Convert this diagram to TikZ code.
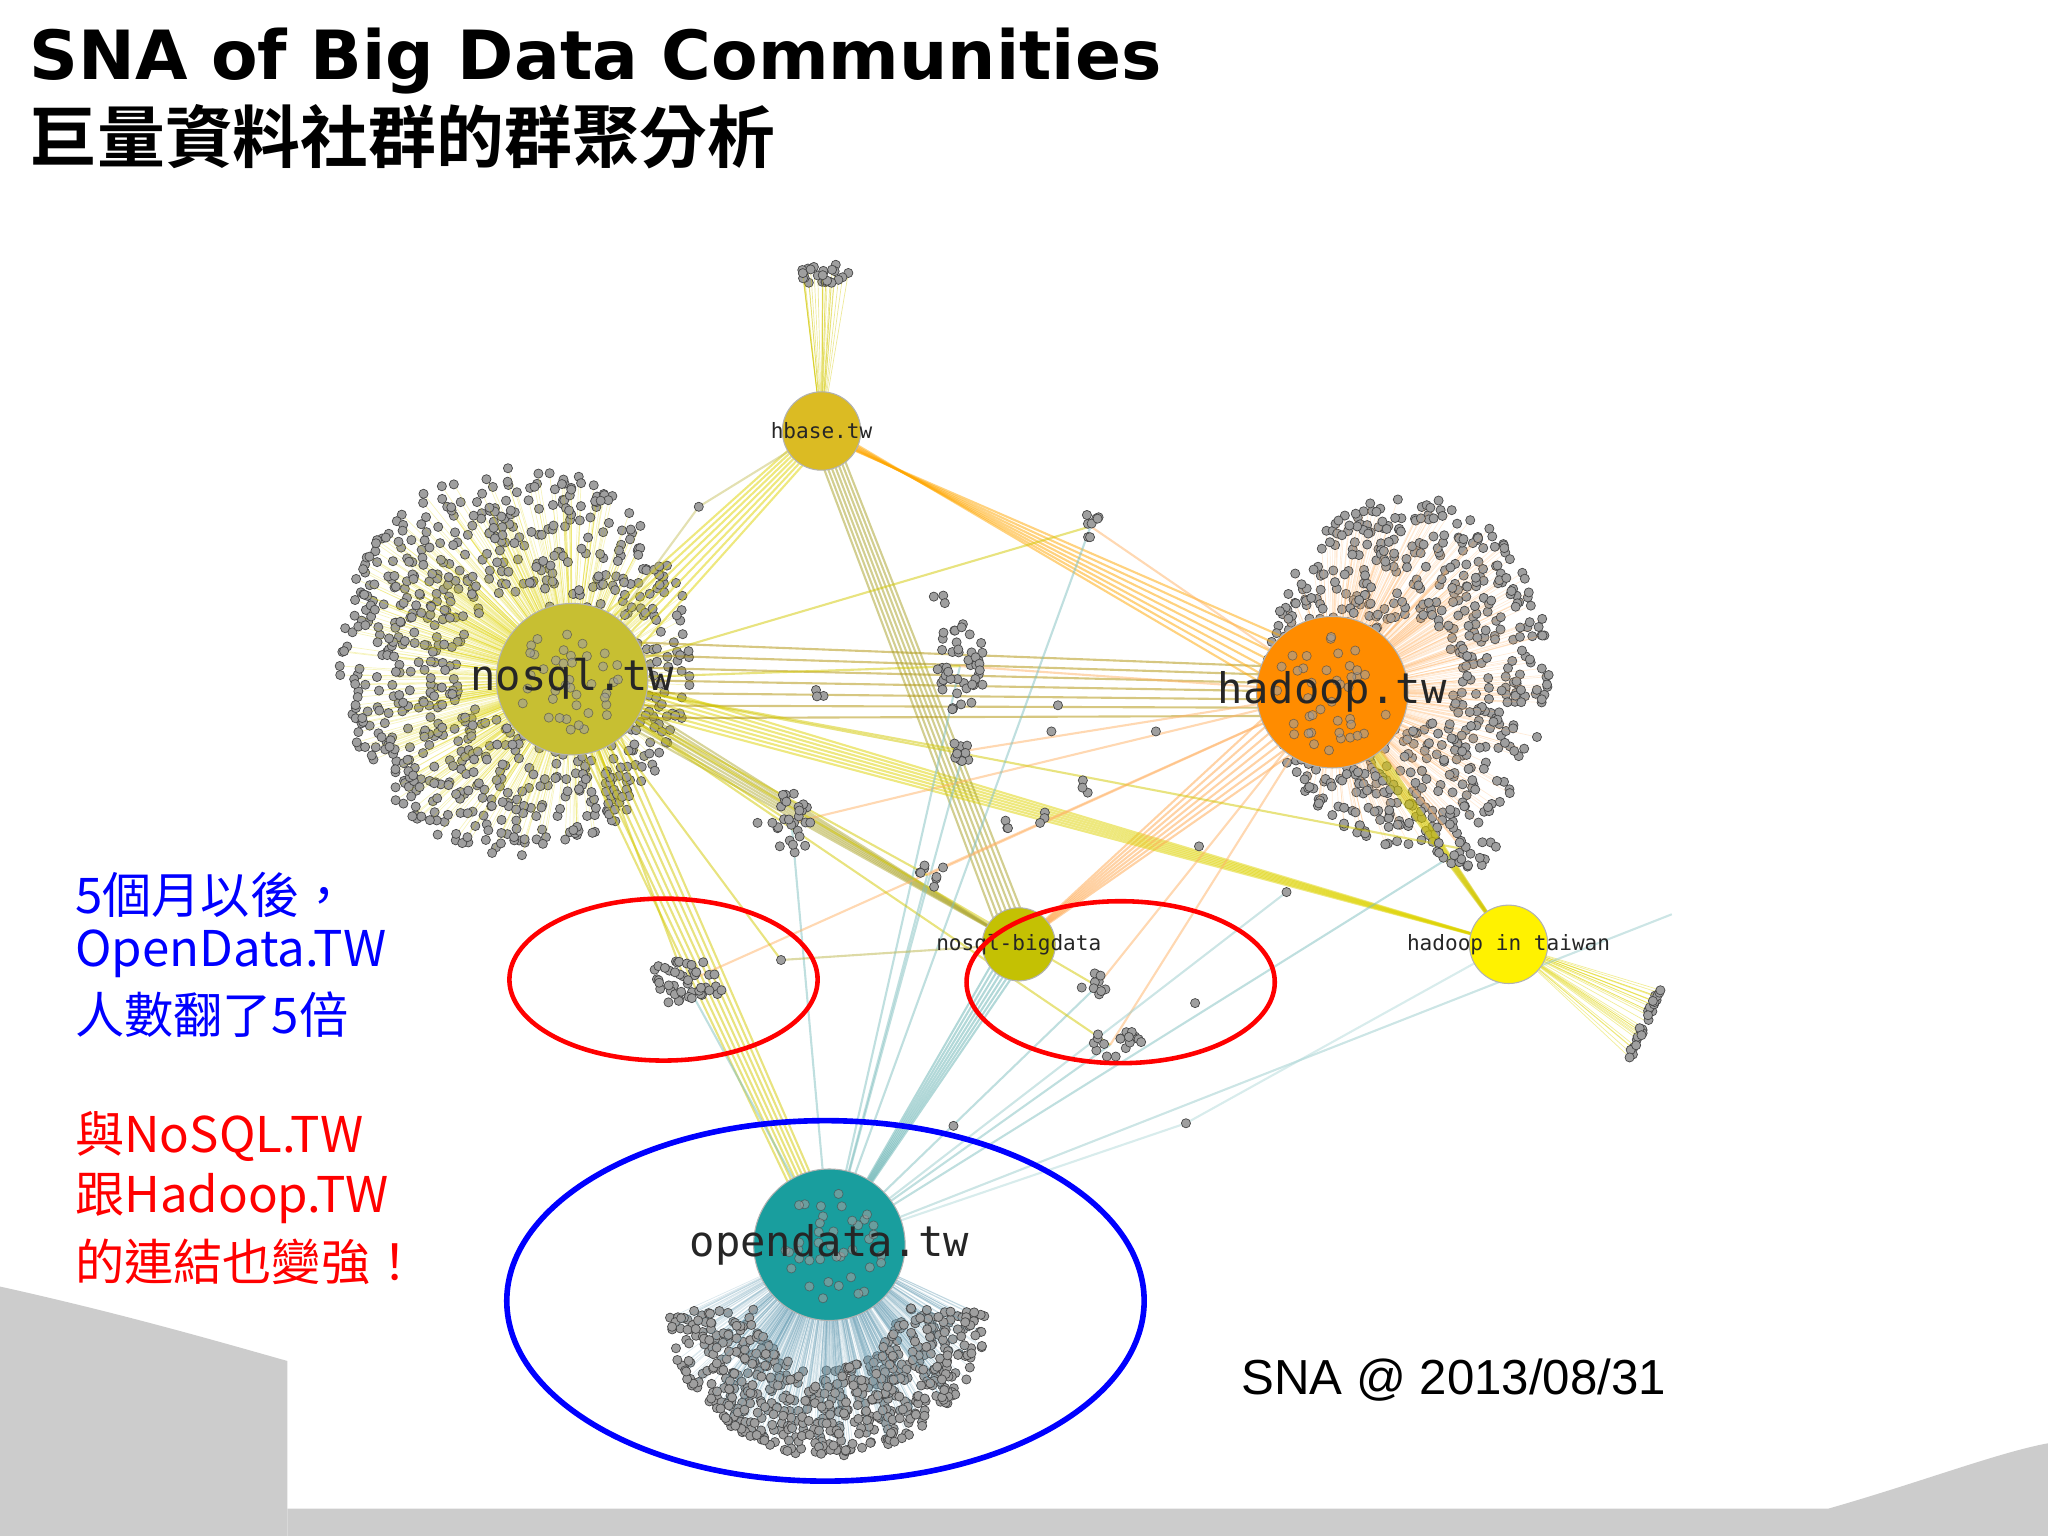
\documentclass[tikz,border=0pt]{standalone}
\usepackage{fontspec}
\usetikzlibrary{calc}
\setmainfont{Liberation Sans}
\newfontfamily\titlefont{DejaVu Sans}
\newfontfamily\cjkb{Noto Sans CJK TC}[BoldFont={* Bold}]
\newfontfamily\cjk{Noto Sans CJK TC}
\newfontfamily\monof{DejaVu Sans Mono}
\begin{document}
\begin{tikzpicture}[x=0.013061cm,y=-0.013061cm,
  dot/.style={fill=gray!75,draw=gray!55!black,line width=0.2pt},
  hub/.style={circle,draw=gray!60,line width=0.3pt,inner sep=0pt},
  hlab/.style={font=\monof,text=black!85},
  edgeO/.style={line width=0.6pt,opacity=0.5},
  ctext/.style={anchor=west,font=\cjk\fontsize{14}{16}\selectfont}]
\pgfmathsetseed{7}
\useasboundingbox (0,0) rectangle (1568,1176);
% slide background shapes
\fill[gray!40] (0,985) .. controls (90,1005) and (160,1025) .. (220,1042) -- (220,1176) -- (0,1176) -- cycle;
\fill[gray!40] (220,1155) -- (1400,1155) .. controls (1470,1135) and (1530,1112) .. (1568,1105) -- (1568,1176) -- (220,1176) -- cycle;
% title
\node[anchor=west,inner sep=0pt,font=\titlefont\bfseries\fontsize{19.3}{22}\selectfont] (title) at (22,47) {SNA of Big Data Communities};
\node[anchor=west,inner sep=0pt,font=\cjkb\bfseries\fontsize{19.3}{22}\selectfont] (subtitle) at (22,105) {巨量資料社群的群聚分析};
% hub coordinates
\coordinate (hb) at (629,330);
\coordinate (ns) at (438,520);
\coordinate (hd) at (1020,530);
\coordinate (nb) at (780,723);
\coordinate (ht) at (1155,723);
\coordinate (od) at (635,953);
% nosql cloud with spokes
\foreach \i in {1,...,800}{
  \pgfmathsetmacro\a{rnd*360}\pgfmathsetmacro\r{sqrt(0.1+0.9*rnd)}
  \draw[yellow!70!olive,line width=0.2pt,opacity=0.25] (ns) -- ({395+135*\r*cos(\a)},{505+150*\r*sin(\a)});
  \fill[dot] ({395+135*\r*cos(\a)},{505+150*\r*sin(\a)}) circle (3.5);
}
% hadoop cloud
\foreach \i in {1,...,700}{
  \pgfmathsetmacro\a{rnd*360}\pgfmathsetmacro\r{sqrt(0.1+0.9*rnd)}
  \draw[orange!60,line width=0.2pt,opacity=0.25] (hd) -- ({1078+108*\r*cos(\a)},{515+135*\r*sin(\a)});
  \fill[dot] ({1078+108*\r*cos(\a)},{515+135*\r*sin(\a)}) circle (3.5);
}
% opendata fan
\foreach \i in {1,...,650}{
  \pgfmathsetmacro\a{5+rnd*170}\pgfmathsetmacro\r{sqrt(0.2+0.8*rnd)}
  \draw[cyan!40!gray,line width=0.2pt,opacity=0.25] (od) -- ({633+125*\r*cos(\a)},{995+120*\r*sin(\a)});
  \fill[dot] ({633+125*\r*cos(\a)},{995+120*\r*sin(\a)}) circle (3.5);
}
% hbase top cluster
\foreach \i in {1,...,25}{
  \pgfmathsetmacro\a{rnd*360}\pgfmathsetmacro\r{sqrt(rnd)}
  \draw[yellow!60!olive,line width=0.2pt,opacity=0.4] (hb) -- ({632+22*\r*cos(\a)},{210+8*\r*sin(\a)});
  \fill[dot] ({632+22*\r*cos(\a)},{210+8*\r*sin(\a)}) circle (3.5);
}
% hadoop in taiwan cluster
\foreach \i in {1,...,30}{
  \pgfmathsetmacro\t{rnd}
  \draw[yellow!70!olive,line width=0.2pt,opacity=0.4] (ht) -- ({1270-25*\t+4*rnd},{755+55*\t});
  \fill[dot] ({1270-25*\t+4*rnd},{755+55*\t}) circle (3.5);
}
% hub-to-hub bundles
\foreach \d in {-30,-20,...,30}{
  \draw[olive!70!orange,edgeO] ($(ns)+(0,\d)$) -- ($(hd)+(0,\d*0.6)$);
  \draw[yellow!60!olive,edgeO] ($(ns)+(\d*0.6,0)$) -- ($(od)+(\d*0.3,0)$);
  \draw[orange!70!yellow,edgeO] ($(hb)+(\d*0.3,0)$) -- ($(hd)+(\d*0.3,\d)$);
  \draw[olive!80,edgeO] ($(hb)+(\d*0.3,0)$) -- ($(nb)+(\d*0.4,0)$);
  \draw[orange!70,edgeO] ($(hd)+(\d*0.5,\d*0.5)$) -- (nb);
  \draw[yellow!70!olive,edgeO] ($(ns)+(0,\d*0.4)$) -- (ht);
  \draw[yellow!60!olive,edgeO] ($(hd)+(0,\d*0.4)$) -- (ht);
  \draw[teal!60,edgeO] (od) -- ($(nb)+(\d*0.4,0)$);
  \draw[olive!70,edgeO] ($(ns)+(0,\d*0.4)$) -- (nb);
  \draw[yellow!70!olive,edgeO] ($(hb)+(\d*0.3,0)$) -- ($(ns)+(\d,0)$);
}
\foreach \x/\y in {606/630,735/510,738/575,525/752,840/755,850/800,1120/650,835/403,710/670}{
  \draw[teal!50,edgeO] (od) -- (\x,\y);
  \draw[yellow!60!olive,edgeO] (ns) -- (\x,\y);
  \draw[orange!60,edgeO] (hd) -- (\x,\y);
}
\draw[teal!40,edgeO] (od) -- (1280,700);
\draw[teal!40,edgeO] (od) -- (985,683);
\draw[yellow!60!olive,edgeO] (ns) -- (598,735);
\draw[olive!60,edgeO] (nb) -- (598,735);
\draw[olive!50,edgeO] (hb) -- (535,388);
\draw[olive!50,edgeO] (ns) -- (535,388);
\draw[teal!30,edgeO] (od) -- (908,860);
\draw[teal!30,edgeO] (ht) -- (908,860);
% small clusters
\foreach \cx/\cy/\rx/\ry/\n in {835/403/8/12/8,735/510/20/35/45,738/575/10/12/10,606/630/15/25/28,525/752/30/18/45,840/755/12/10/10,855/800/22/12/18,1122/652/25/12/22,712/670/12/12/8,718/460/6/6/3,628/530/6/6/3,775/630/6/6/3,800/628/6/6/3,830/602/6/6/3}{
  \foreach \i in {1,...,\n}{
    \pgfmathsetmacro\a{rnd*360}\pgfmathsetmacro\r{sqrt(rnd)}
    \fill[dot] ({\cx+\rx*\r*cos(\a)},{\cy+\ry*\r*sin(\a)}) circle (3.5);
  }
}
\foreach \x/\y in {535/388,598/735,580/630,985/683,915/768,908/860,805/560,810/540,885/560,730/862,918/648}{\fill[dot] (\x,\y) circle (3.5);}
% hubs
\node[hub,fill=yellow!70!orange!85!black,minimum size=0.784cm] (hbase) at (hb) {};
\node[hub,fill=yellow!75!black,minimum size=1.515cm] (nosql) at (ns) {};
\node[hub,fill=orange!90!yellow,minimum size=1.515cm] (hadoop) at (hd) {};
\node[hub,fill=yellow!55!olive!95!green,minimum size=0.731cm] (nbd) at (nb) {};
\node[hub,fill=yellow,minimum size=0.784cm] (hit) at (ht) {};
\node[hub,fill=teal!70!cyan!80!gray,minimum size=1.515cm] (open) at (od) {};
% dots on hubs
\foreach \c/\R in {ns/45,hd/45,od/45}{
  \foreach \i in {1,...,40}{
    \pgfmathsetmacro\a{rnd*360}\pgfmathsetmacro\r{sqrt(rnd)}
    \fill[dot,opacity=0.6] ($(\c)+({\R*\r*cos(\a)},{\R*\r*sin(\a)})$) circle (3.5);
  }
}
% labels
\node[hlab,font=\monof\fontsize{6}{7}\selectfont] (lhb) at (hb) {hbase.tw};
\node[hlab,font=\monof\fontsize{12}{14}\selectfont] (lns) at (ns) {nosql.tw};
\node[hlab,font=\monof\fontsize{12}{14}\selectfont] (lhd) at (hd) {hadoop.tw};
\node[hlab,font=\monof\fontsize{6}{7}\selectfont] (lnb) at (nb) {nosql-bigdata};
\node[hlab,font=\monof\fontsize{6}{7}\selectfont] (lht) at (ht) {hadoop in taiwan};
\node[hlab,font=\monof\fontsize{12}{14}\selectfont] (lod) at (od) {opendata.tw};
% highlight ellipses
\draw[red,line width=1.3pt] (508,750) ellipse (118 and 62);
\draw[red,line width=1.3pt] (858,752) ellipse (118 and 62);
\draw[blue,line width=1.6pt] (632,996) ellipse (244 and 138);
% side text
\node[ctext,text=blue] (t1) at (48,685) {5個月以後，};
\node[ctext,text=blue] (t2) at (48,730) {OpenData.TW};
\node[ctext,text=blue] (t3) at (48,777) {人數翻了5倍};
\node[ctext,text=red] (t4) at (48,870) {與NoSQL.TW};
\node[ctext,text=red] (t5) at (48,918) {跟Hadoop.TW};
\node[ctext,text=red] (t6) at (48,966) {的連結也變強！};
\node[anchor=center,font=\fontsize{14}{16}\selectfont] (date) at (1113,1057) {SNA @ 2013/08/31};
\end{tikzpicture}
\end{document}
